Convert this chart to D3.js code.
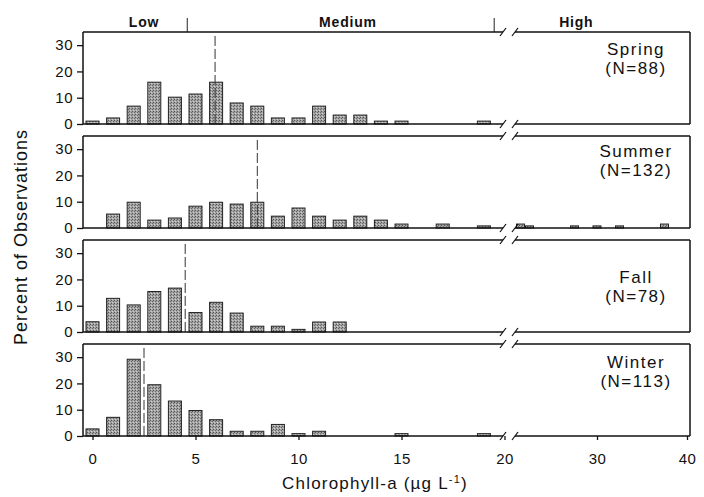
<!DOCTYPE html>
<html>
<head>
<meta charset="utf-8">
<script src="https://cdn.jsdelivr.net/npm/d3@7"></script>
<style>
body { margin: 0; background: #fff; }
text { font-family: "Liberation Sans", Arial, sans-serif; fill: #111; }
</style>
</head>
<body>
<svg id="chart" width="704" height="497"></svg>
<script>
// seasons and sample sizes
var seasons = ["Spring", "Summer", "Fall", "Winter"];
var sampleSizes = [88, 132, 78, 113];

// percent of observations per 1 ug/L bin (bin centre = index), 0-19
var springPct = [1.1, 2.3, 6.8, 15.9, 10.2, 11.4, 15.9, 8.0, 6.8, 2.3, 2.3, 6.8, 3.4, 3.4, 1.1, 1.1, 0, 0, 0, 1.1];
var summerPct = [0, 5.3, 9.8, 3.0, 3.8, 8.3, 9.8, 9.1, 9.8, 4.5, 7.6, 4.5, 3.0, 4.5, 3.0, 1.5, 0, 1.5, 0, 0.8];
var fallPct = [3.9, 12.8, 10.3, 15.4, 16.7, 7.4, 11.3, 7.2, 2.2, 2.2, 1.0, 3.8, 3.8];
var winterPct = [2.7, 7.1, 29.2, 19.5, 13.3, 9.7, 6.2, 1.8, 1.8, 4.4, 0.9, 1.8, 0, 0, 0, 0.9, 0, 0, 0, 0.9];

// the "high" part of the axis (above 20 ug/L), summer only
var summerHighX = [21.5, 22.5, 27.5, 30, 32.5, 37.5];
var summerHighPct = [1.5, 0.8, 0.8, 0.8, 0.8, 1.5];

// dashed lines (season mean)
var meanValues = [5.95, 8.0, 4.5, 2.5];

// trophic classes along the top
var classNames = ["Low", "Medium", "High"];
var classLabelAt = [2.5, 12.4, 27.7];
var classBreaks = [4.6, 19.5];

var yTicks = [0, 10, 20, 30];
var xTicksLow = [0, 5, 10, 15, 20];
var xTicksHigh = [30, 40];

var lowSeries = [springPct, summerPct, fallPct, winterPct];
var highSeries = [[], summerHighPct, [], []];
var highX = [[], summerHighX, [], []];

// layout
var frameL = 83, breakL = 503, breakR = 515, frameR = 690;
var panelTop0 = 32, panelH = 92, panelStep = 104;
var labelBaseline = [23, 21, 43, 24];

var xLow = d3.scaleLinear().domain([0, 20]).range([92.5, 504.5]);
var xHigh = d3.scaleLinear().domain([20, 40]).range([507, 687]);
function xAt(v) { return v <= 20 ? xLow(v) : xHigh(v); }

var svg = d3.select("#chart");

var defs = svg.append("defs");
var pat = defs.append("pattern")
    .attr("id", "stipple")
    .attr("width", 3).attr("height", 3)
    .attr("patternUnits", "userSpaceOnUse");
pat.append("rect").attr("width", 3).attr("height", 3).attr("fill", "#a4a4a4");
pat.append("rect").attr("x", 0).attr("y", 0).attr("width", 1).attr("height", 1).attr("fill", "#555");
pat.append("rect").attr("x", 2).attr("y", 1).attr("width", 1).attr("height", 1).attr("fill", "#6a6a6a");
pat.append("rect").attr("x", 1).attr("y", 2).attr("width", 1).attr("height", 1).attr("fill", "#d0d0d0");

// class labels and dividers above the first panel
var header = svg.append("g").attr("class", "header");
header.selectAll("text.cls")
    .data(classNames)
    .enter().append("text")
    .attr("class", "cls")
    .attr("x", function (d, i) { return xAt(classLabelAt[i]); })
    .attr("y", 27)
    .attr("text-anchor", "middle")
    .attr("font-size", 14)
    .attr("font-weight", "bold")
    .attr("letter-spacing", 0.8)
    .text(function (d) { return d; });
header.selectAll("line.div")
    .data(classBreaks)
    .enter().append("line")
    .attr("class", "div")
    .attr("x1", function (d) { return xLow(d); })
    .attr("x2", function (d) { return xLow(d); })
    .attr("y1", 18)
    .attr("y2", panelTop0)
    .attr("stroke", "#222")
    .attr("stroke-width", 1);

function slash(g, x, y) {
    g.append("line")
        .attr("x1", x - 3).attr("y1", y + 4)
        .attr("x2", x + 3).attr("y2", y - 4)
        .attr("stroke", "#111").attr("stroke-width", 1.2);
}

function drawBars(g, data, xs, xScale, y, w) {
    g.selectAll(null)
        .data(data.map(function (v, k) { return { x: xs ? xs[k] : k, v: v }; })
            .filter(function (d) { return d.v > 0; }))
        .enter().append("rect")
        .attr("class", "bar")
        .attr("x", function (d) { return xScale(d.x) - w / 2; })
        .attr("width", w)
        .attr("y", function (d) { return y(d.v); })
        .attr("height", function (d) { return y(0) - y(d.v); })
        .attr("fill", "url(#stipple)")
        .attr("stroke", "#222")
        .attr("stroke-width", 1);
}

seasons.forEach(function (season, i) {
    var top = panelTop0 + i * panelStep;
    var bottom = top + panelH;
    var y = d3.scaleLinear().domain([0, 35]).range([bottom, top]);
    var g = svg.append("g").attr("class", "panel");

    drawBars(g, lowSeries[i], null, xLow, y, 13);
    drawBars(g, highSeries[i], highX[i], xHigh, y, 8);

    // mean line
    g.append("line")
        .attr("x1", xLow(meanValues[i]))
        .attr("x2", xLow(meanValues[i]))
        .attr("y1", y(33.5))
        .attr("y2", y(0))
        .attr("stroke", "#333")
        .attr("stroke-width", 1)
        .attr("stroke-dasharray", "10,3");

    // frame, broken between 20 and the high section
    var frame = g.append("g").attr("class", "frame");
    [[frameL, breakL], [breakR, frameR]].forEach(function (seg) {
        [top, bottom].forEach(function (yy) {
            frame.append("line")
                .attr("x1", seg[0]).attr("x2", seg[1])
                .attr("y1", yy).attr("y2", yy)
                .attr("stroke", "#111").attr("stroke-width", 1.5);
        });
    });
    [frameL, frameR].forEach(function (xx) {
        frame.append("line")
            .attr("x1", xx).attr("x2", xx)
            .attr("y1", top).attr("y2", bottom)
            .attr("stroke", "#111").attr("stroke-width", 1.5);
    });
    [top, bottom].forEach(function (yy) {
        slash(frame, breakL, yy);
        slash(frame, breakR, yy);
    });

    // y axis
    var yAxis = g.append("g")
        .attr("transform", "translate(" + frameL + ",0)")
        .call(d3.axisLeft(y).tickValues(yTicks).tickSize(6).tickPadding(4));
    yAxis.select(".domain").remove();
    yAxis.selectAll("line").attr("stroke", "#111").attr("stroke-width", 1.3);
    yAxis.selectAll("text")
        .attr("font-size", 15)
        .attr("letter-spacing", 0.5)
        .attr("font-family", "Liberation Sans, Arial, sans-serif")
        .attr("fill", "#111");

    // season label
    g.append("text")
        .attr("x", 636)
        .attr("y", top + labelBaseline[i])
        .attr("text-anchor", "middle")
        .attr("font-size", 17)
        .attr("letter-spacing", 1.5)
        .text(season);
    g.append("text")
        .attr("x", 636)
        .attr("y", top + labelBaseline[i] + 19)
        .attr("text-anchor", "middle")
        .attr("font-size", 17)
        .attr("letter-spacing", 1.5)
        .text("(N=" + sampleSizes[i] + ")");

    if (i === seasons.length - 1) {
        [[xLow, xTicksLow], [xHigh, xTicksHigh]].forEach(function (ax) {
            var xa = g.append("g")
                .attr("transform", "translate(0," + bottom + ")")
                .call(d3.axisBottom(ax[0]).tickValues(ax[1]).tickSize(4).tickPadding(13));
            xa.select(".domain").remove();
            xa.selectAll("line").attr("stroke", "#111").attr("stroke-width", 1.3);
            xa.selectAll("text")
                .attr("font-size", 15)
                .attr("letter-spacing", 0.5)
                .attr("font-family", "Liberation Sans, Arial, sans-serif")
                .attr("fill", "#111");
        });
    }
});

// axis titles
var xt = svg.append("text")
    .attr("x", 375)
    .attr("y", 489)
    .attr("text-anchor", "middle")
    .attr("font-size", 17)
    .attr("letter-spacing", 1.2);
xt.append("tspan").text("Chlorophyll-a (\u00b5g L");
xt.append("tspan").attr("dy", -6).attr("font-size", 11).text("-1");
xt.append("tspan").attr("dy", 6).text(")");

svg.append("text")
    .attr("transform", "translate(27," + 237 + ") rotate(-90)")
    .attr("text-anchor", "middle")
    .attr("font-size", 18)
    .attr("letter-spacing", 1)
    .text("Percent of Observations");
</script>
</body>
</html>
